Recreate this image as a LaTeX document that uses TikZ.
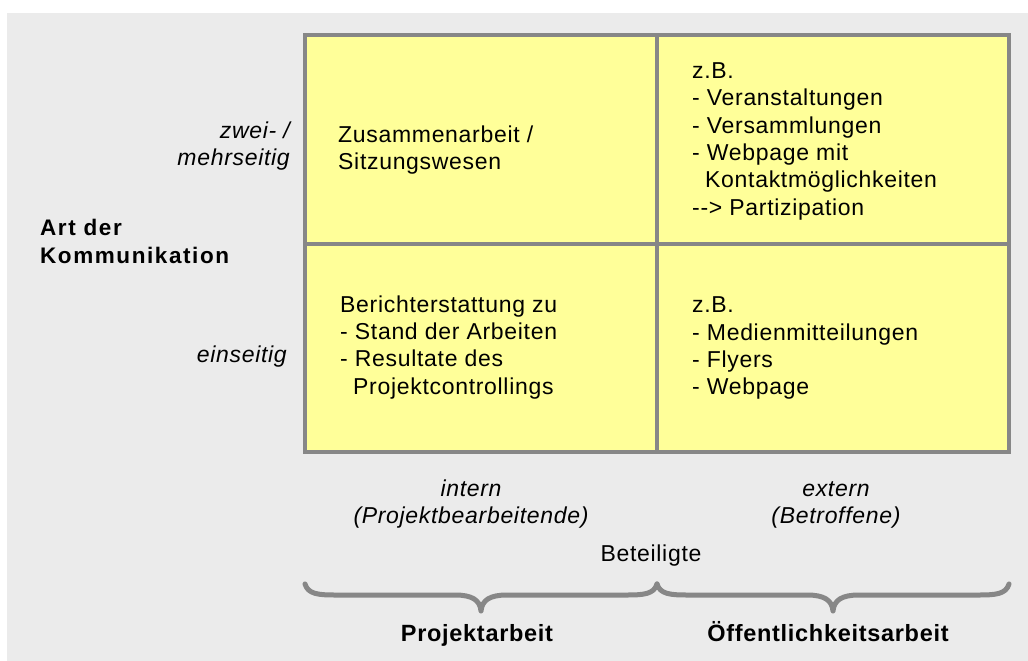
\documentclass[tikz,border=0pt]{standalone}
\usepackage{fontspec}
\setmainfont{Liberation Sans}[LetterSpace=3.0]
\newfontfamily\artfont{Liberation Sans}[LetterSpace=7.0]
\definecolor{bgray}{HTML}{EBEBEB}
\definecolor{cellfill}{HTML}{FFFF99}
\definecolor{gridgray}{HTML}{878787}
\begin{document}
\begin{tikzpicture}[x=1pt,y=-1pt,
  txt/.style={inner sep=0pt, anchor=base west, align=left, font=\fontsize{23}{27.3}\selectfont},
  sidelab/.style={inner sep=0pt, anchor=base east, align=right, font=\fontsize{23}{27.7}\selectfont\itshape},
  botlab/.style={inner sep=0pt, anchor=base, align=center, font=\fontsize{23}{27}\selectfont\itshape},
  axislab/.style={inner sep=0pt, anchor=base, align=center, font=\fontsize{23}{27}\selectfont},
  grouplab/.style={inner sep=0pt, anchor=base, font=\fontsize{23.5}{28}\selectfont\bfseries},
  artlab/.style={inner sep=0pt, anchor=base west, align=left, font=\fontsize{22.5}{28}\artfont\bfseries},
  gridline/.style={draw=gridgray, line width=4pt},
  bracestyle/.style={draw=gridgray, line width=5pt, line cap=round, line join=round}
]
\useasboundingbox (0,0) rectangle (1028,661);
\fill[white] (0,0) rectangle (1028,661);
\fill[bgray] (7,13) rectangle (1028,661);

% grid
\fill[cellfill] (305,35) rectangle (1009,452);
\draw[gridline] (305,35) rectangle (1009,452);
\draw[gridline] (657,35) -- (657,452);
\draw[gridline] (305,244) -- (1009,244);

% cell texts (anchor = baseline of last line)
\node[txt] (tl) at (338,169.6) {Zusammenarbeit /\\Sitzungswesen};
\node[txt] (tr) at (692,215) {z.B.\\- Veranstaltungen\\- Versammlungen\\- Webpage mit\\\hspace*{13pt}Kontaktmöglichkeiten\\{-}{-}> Partizipation};
\node[txt] (bl) at (340,394) {Berichterstattung zu\\- Stand der Arbeiten\\- Resultate des\\\hspace*{13pt}Projektcontrollings};
\node[txt] (br) at (692,394.6) {z.B.\\- Medienmitteilungen\\- Flyers\\- Webpage};

% side labels
\node[sidelab] (zwei) at (290,165.7) {zwei- /\\mehrseitig};
\node[sidelab] (ein) at (287,362.7) {einseitig};
\node[artlab] (art) at (40,263.3) {Art der\\Kommunikation};

% bottom labels
\node[botlab] (intern) at (471,523) {intern\\(Projektbearbeitende)};
\node[botlab] (extern) at (836,523) {extern\\(Betroffene)};
\node[axislab] (bet) at (651,561.7) {Beteiligte};

% braces
\coordinate (bL) at (305,584);
\coordinate (bM) at (657,584);
\coordinate (bR) at (1009,584);
\draw[bracestyle] (bL) .. controls (308,594) and (318,595) .. (335,595) -- (455,595)
  .. controls (472,595) and (480,600) .. (481,611)
  .. controls (482,600) and (490,595) .. (507,595) -- (627,595)
  .. controls (644,595) and (654,594) .. (bM);
\draw[bracestyle] (bM) .. controls (660,594) and (670,595) .. (687,595) -- (807,595)
  .. controls (824,595) and (832,600) .. (833,611)
  .. controls (834,600) and (842,595) .. (859,595) -- (979,595)
  .. controls (996,595) and (1006,594) .. (bR);

\node[grouplab] (proj) at (477,641) {Projektarbeit};
\node[grouplab] (oeff) at (828,641) {Öffentlichkeitsarbeit};
\end{tikzpicture}
\end{document}
